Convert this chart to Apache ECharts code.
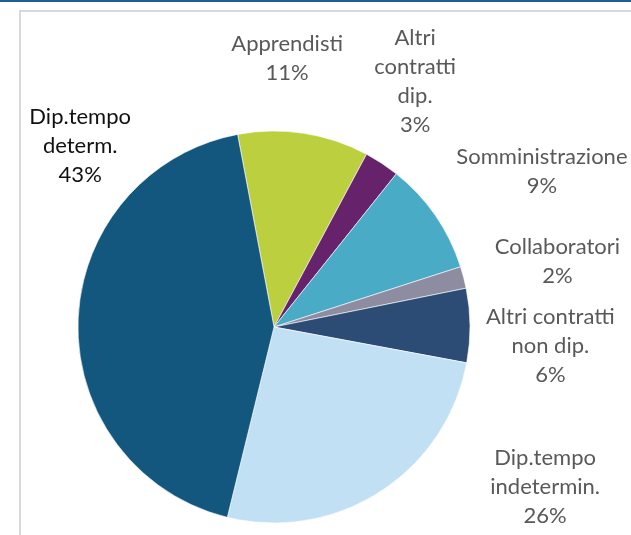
<!DOCTYPE html>
<html>
<head>
<meta charset="utf-8">
<script src="https://cdn.jsdelivr.net/npm/echarts@6/dist/echarts.min.js"></script>
<style>
html,body{margin:0;padding:0;background:#fff;}
#chart{width:631px;height:535px;}
</style>
</head>
<body>
<div id="chart"></div>
<script>
// Data
const categories = [
  'Apprendisti',
  'Altri\ncontratti\ndip.',
  'Somministrazione',
  'Collaboratori',
  'Altri contratti\nnon dip.',
  'Dip.tempo\nindetermin.',
  'Dip.tempo\ndeterm.'
];
const values = [10.8, 2.9, 9.3, 1.8, 6.1, 25.9, 43.2];

// Styles
const colors = ['#bcd03f', '#66236b', '#4aabc6', '#8e8ca0', '#2c4c75', '#c2e0f4', '#13577f'];
const labelColors = ['#595959', '#595959', '#595959', '#595959', '#595959', '#595959', '#111111'];
// label placement: angle (deg clockwise from 12 o'clock) and distance from centre (px)
const labelAngles = [2.8, 29.9, 59.8, 76.9, 94, 120.6, -47];
const labelDists = [269, 283, 310, 291, 277, 315, 265];

const W = 631, H = 535;
const CX = 274, CY = 327, R = 196;

const total = values.reduce((a, b) => a + b, 0);
const data = categories.map((c, i) => ({
  name: c,
  value: values[i],
  itemStyle: { color: colors[i] },
  label: { color: labelColors[i] }
}));

const chart = echarts.init(document.getElementById('chart'), null, { renderer: 'canvas' });
chart.setOption({
  animation: false,
  backgroundColor: '#ffffff',
  graphic: [
    { type: 'rect', shape: { x: 20, y: 11, width: 640, height: 560 }, style: { fill: 'none', stroke: '#d9d9d9', lineWidth: 2 }, z: 0 },
    { type: 'line', shape: { x1: 0, y1: 1, x2: W, y2: 1 }, style: { stroke: '#1f5f8f', lineWidth: 2 }, z: 0 }
  ],
  series: [{
    type: 'pie',
    center: [CX / W * 100 + '%', CY / H * 100 + '%'],
    radius: [0, R],
    startAngle: 100.7,
    clockwise: true,
    avoidLabelOverlap: false,
    itemStyle: { borderColor: '#ffffff', borderWidth: 0.6 },
    label: {
      show: true,
      position: 'outside',
      fontFamily: 'Lato',
      fontSize: 22,
      lineHeight: 29,
      align: 'center',
      formatter: p => p.name + '\n' + Math.round(p.value / total * 100) + '%'
    },
    labelLine: { show: false },
    labelLayout: p => {
      const a = labelAngles[p.dataIndex] * Math.PI / 180;
      const d = labelDists[p.dataIndex];
      return {
        x: CX + d * Math.sin(a),
        y: CY - d * Math.cos(a),
        align: 'center',
        verticalAlign: 'middle'
      };
    },
    emphasis: { disabled: true },
    data: data
  }]
});
</script>
</body>
</html>
